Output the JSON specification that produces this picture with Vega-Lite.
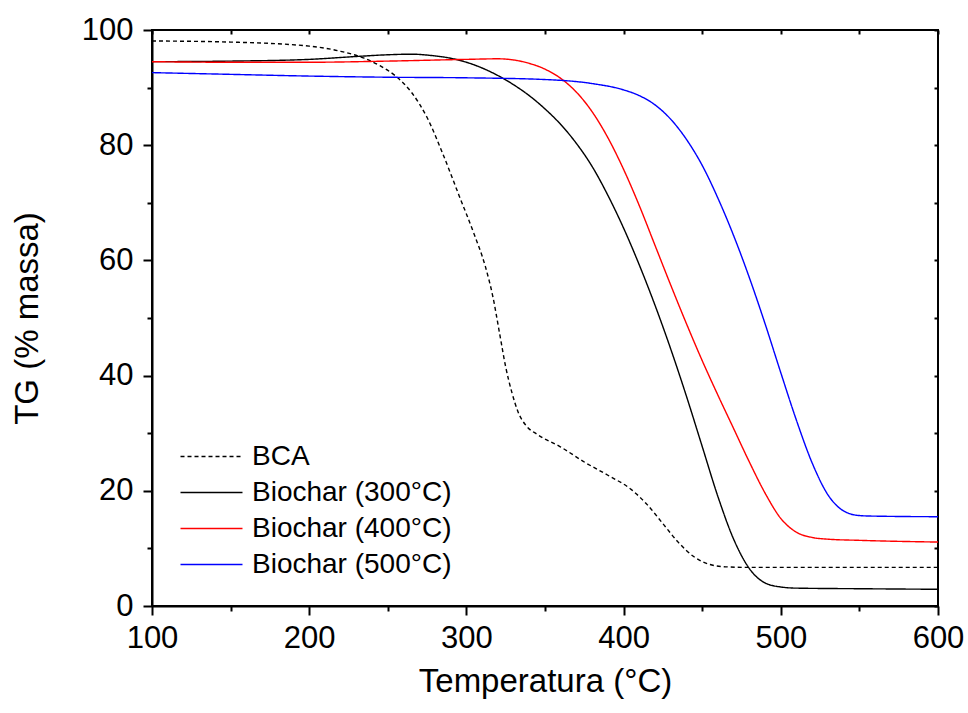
{
  "$schema": "https://vega.github.io/schema/vega-lite/v6.json",
  "width": 786,
  "height": 576,
  "padding": {"left": 11, "top": 14, "right": 25, "bottom": 5},
  "background": "white",
  "config": {
    "view": {"stroke": "black", "strokeWidth": 2},
    "font": "Liberation Sans",
    "axis": {
      "grid": false,
      "labelFlush": false,
      "domainColor": "black",
      "domainWidth": 2,
      "tickColor": "black",
      "tickWidth": 2,
      "labelColor": "black",
      "labelFont": "Liberation Sans",
      "labelFontSize": 31,
      "titleFont": "Liberation Sans",
      "titleFontSize": 33,
      "titleFontWeight": "normal",
      "titleColor": "black"
    },
    "legend": {
      "labelFont": "Liberation Sans",
      "labelFontSize": 28,
      "labelColor": "black",
      "labelLimit": 0
    }
  },
  "datasets": {
    "tg": [
      {"s": "BCA", "T": 100, "TG": 98.1},
      {"s": "BCA", "T": 150, "TG": 97.9},
      {"s": "BCA", "T": 200, "TG": 97.2},
      {"s": "BCA", "T": 220, "TG": 96.3},
      {"s": "BCA", "T": 235, "TG": 95.1},
      {"s": "BCA", "T": 245, "TG": 93.8},
      {"s": "BCA", "T": 255, "TG": 92.0},
      {"s": "BCA", "T": 265, "TG": 89.2},
      {"s": "BCA", "T": 275, "TG": 84.8},
      {"s": "BCA", "T": 285, "TG": 78.5},
      {"s": "BCA", "T": 295, "TG": 71.5},
      {"s": "BCA", "T": 305, "TG": 64.5},
      {"s": "BCA", "T": 312, "TG": 59.0},
      {"s": "BCA", "T": 317, "TG": 53.5},
      {"s": "BCA", "T": 321, "TG": 47.5},
      {"s": "BCA", "T": 325, "TG": 41.5},
      {"s": "BCA", "T": 329, "TG": 37.0},
      {"s": "BCA", "T": 333, "TG": 33.6},
      {"s": "BCA", "T": 338, "TG": 31.3},
      {"s": "BCA", "T": 345, "TG": 29.8},
      {"s": "BCA", "T": 360, "TG": 27.6},
      {"s": "BCA", "T": 375, "TG": 25.0},
      {"s": "BCA", "T": 390, "TG": 22.7},
      {"s": "BCA", "T": 405, "TG": 20.2},
      {"s": "BCA", "T": 415, "TG": 17.6},
      {"s": "BCA", "T": 425, "TG": 14.3},
      {"s": "BCA", "T": 435, "TG": 11.0},
      {"s": "BCA", "T": 445, "TG": 8.5},
      {"s": "BCA", "T": 455, "TG": 7.2},
      {"s": "BCA", "T": 465, "TG": 6.8},
      {"s": "BCA", "T": 480, "TG": 6.7},
      {"s": "BCA", "T": 540, "TG": 6.7},
      {"s": "BCA", "T": 600, "TG": 6.7},

      {"s": "Biochar (300°C)", "T": 100, "TG": 94.5},
      {"s": "Biochar (300°C)", "T": 150, "TG": 94.6},
      {"s": "Biochar (300°C)", "T": 200, "TG": 94.9},
      {"s": "Biochar (300°C)", "T": 230, "TG": 95.4},
      {"s": "Biochar (300°C)", "T": 250, "TG": 95.7},
      {"s": "Biochar (300°C)", "T": 265, "TG": 95.8},
      {"s": "Biochar (300°C)", "T": 280, "TG": 95.5},
      {"s": "Biochar (300°C)", "T": 290, "TG": 95.1},
      {"s": "Biochar (300°C)", "T": 300, "TG": 94.4},
      {"s": "Biochar (300°C)", "T": 310, "TG": 93.4},
      {"s": "Biochar (300°C)", "T": 320, "TG": 92.1},
      {"s": "Biochar (300°C)", "T": 330, "TG": 90.5},
      {"s": "Biochar (300°C)", "T": 340, "TG": 88.6},
      {"s": "Biochar (300°C)", "T": 350, "TG": 86.3},
      {"s": "Biochar (300°C)", "T": 360, "TG": 83.6},
      {"s": "Biochar (300°C)", "T": 370, "TG": 80.3},
      {"s": "Biochar (300°C)", "T": 380, "TG": 76.3},
      {"s": "Biochar (300°C)", "T": 390, "TG": 71.3},
      {"s": "Biochar (300°C)", "T": 400, "TG": 65.6},
      {"s": "Biochar (300°C)", "T": 410, "TG": 59.2},
      {"s": "Biochar (300°C)", "T": 420, "TG": 52.2},
      {"s": "Biochar (300°C)", "T": 430, "TG": 44.6},
      {"s": "Biochar (300°C)", "T": 440, "TG": 36.4},
      {"s": "Biochar (300°C)", "T": 450, "TG": 27.7},
      {"s": "Biochar (300°C)", "T": 460, "TG": 19.0},
      {"s": "Biochar (300°C)", "T": 470, "TG": 11.6},
      {"s": "Biochar (300°C)", "T": 480, "TG": 6.5},
      {"s": "Biochar (300°C)", "T": 490, "TG": 4.0},
      {"s": "Biochar (300°C)", "T": 500, "TG": 3.3},
      {"s": "Biochar (300°C)", "T": 510, "TG": 3.1},
      {"s": "Biochar (300°C)", "T": 550, "TG": 3.0},
      {"s": "Biochar (300°C)", "T": 600, "TG": 2.9},

      {"s": "Biochar (400°C)", "T": 100, "TG": 94.5},
      {"s": "Biochar (400°C)", "T": 150, "TG": 94.4},
      {"s": "Biochar (400°C)", "T": 200, "TG": 94.4},
      {"s": "Biochar (400°C)", "T": 250, "TG": 94.6},
      {"s": "Biochar (400°C)", "T": 300, "TG": 94.9},
      {"s": "Biochar (400°C)", "T": 320, "TG": 95.0},
      {"s": "Biochar (400°C)", "T": 330, "TG": 94.8},
      {"s": "Biochar (400°C)", "T": 340, "TG": 94.2},
      {"s": "Biochar (400°C)", "T": 350, "TG": 93.2},
      {"s": "Biochar (400°C)", "T": 360, "TG": 91.6},
      {"s": "Biochar (400°C)", "T": 370, "TG": 89.2},
      {"s": "Biochar (400°C)", "T": 380, "TG": 85.8},
      {"s": "Biochar (400°C)", "T": 390, "TG": 81.3},
      {"s": "Biochar (400°C)", "T": 400, "TG": 75.8},
      {"s": "Biochar (400°C)", "T": 410, "TG": 69.5},
      {"s": "Biochar (400°C)", "T": 420, "TG": 62.6},
      {"s": "Biochar (400°C)", "T": 430, "TG": 55.7},
      {"s": "Biochar (400°C)", "T": 440, "TG": 49.0},
      {"s": "Biochar (400°C)", "T": 450, "TG": 42.6},
      {"s": "Biochar (400°C)", "T": 460, "TG": 36.6},
      {"s": "Biochar (400°C)", "T": 470, "TG": 30.8},
      {"s": "Biochar (400°C)", "T": 480, "TG": 25.0},
      {"s": "Biochar (400°C)", "T": 490, "TG": 19.6},
      {"s": "Biochar (400°C)", "T": 500, "TG": 15.2},
      {"s": "Biochar (400°C)", "T": 510, "TG": 12.8},
      {"s": "Biochar (400°C)", "T": 520, "TG": 11.9},
      {"s": "Biochar (400°C)", "T": 530, "TG": 11.6},
      {"s": "Biochar (400°C)", "T": 550, "TG": 11.4},
      {"s": "Biochar (400°C)", "T": 600, "TG": 11.1},

      {"s": "Biochar (500°C)", "T": 100, "TG": 92.6},
      {"s": "Biochar (500°C)", "T": 150, "TG": 92.3},
      {"s": "Biochar (500°C)", "T": 200, "TG": 92.0},
      {"s": "Biochar (500°C)", "T": 250, "TG": 91.8},
      {"s": "Biochar (500°C)", "T": 300, "TG": 91.7},
      {"s": "Biochar (500°C)", "T": 350, "TG": 91.4},
      {"s": "Biochar (500°C)", "T": 380, "TG": 90.7},
      {"s": "Biochar (500°C)", "T": 400, "TG": 89.6},
      {"s": "Biochar (500°C)", "T": 410, "TG": 88.6},
      {"s": "Biochar (500°C)", "T": 420, "TG": 87.0},
      {"s": "Biochar (500°C)", "T": 430, "TG": 84.5},
      {"s": "Biochar (500°C)", "T": 440, "TG": 81.0},
      {"s": "Biochar (500°C)", "T": 450, "TG": 76.5},
      {"s": "Biochar (500°C)", "T": 460, "TG": 70.8},
      {"s": "Biochar (500°C)", "T": 470, "TG": 64.3},
      {"s": "Biochar (500°C)", "T": 480, "TG": 57.0},
      {"s": "Biochar (500°C)", "T": 490, "TG": 49.0},
      {"s": "Biochar (500°C)", "T": 500, "TG": 40.5},
      {"s": "Biochar (500°C)", "T": 510, "TG": 32.2},
      {"s": "Biochar (500°C)", "T": 520, "TG": 24.8},
      {"s": "Biochar (500°C)", "T": 530, "TG": 19.3},
      {"s": "Biochar (500°C)", "T": 540, "TG": 16.5},
      {"s": "Biochar (500°C)", "T": 550, "TG": 15.7},
      {"s": "Biochar (500°C)", "T": 560, "TG": 15.6},
      {"s": "Biochar (500°C)", "T": 600, "TG": 15.5}
    ]
  },
  "data": {"name": "tg"},
  "resolve": {"axis": {"x": "independent", "y": "independent"}},
  "layer": [
    {
      "mark": {"type": "line", "strokeWidth": 1.4, "interpolate": "monotone", "clip": true},
      "encoding": {
        "x": {
          "field": "T",
          "type": "quantitative",
          "title": "Temperatura (°C)",
          "scale": {"domain": [100, 600], "nice": false, "zero": false},
          "axis": {
            "values": [100, 150, 200, 250, 300, 350, 400, 450, 500, 550, 600],
            "labelExpr": "datum.value % 100 === 0 ? datum.label : ''",
            "tickSize": {"condition": {"test": "datum.value % 100 === 0", "value": 9}, "value": 5},
            "labelPadding": 8,
            "titlePadding": 12
          }
        },
        "y": {
          "field": "TG",
          "type": "quantitative",
          "title": "TG (% massa)",
          "scale": {"domain": [0, 100], "nice": false},
          "axis": {
            "values": [0, 10, 20, 30, 40, 50, 60, 70, 80, 90, 100],
            "labelExpr": "datum.value % 20 === 0 ? datum.label : ''",
            "tickSize": {"condition": {"test": "datum.value % 20 === 0", "value": 9}, "value": 5},
            "labelPadding": 10,
            "titlePadding": 37
          }
        },
        "color": {
          "field": "s",
          "type": "nominal",
          "scale": {
            "domain": ["BCA", "Biochar (300°C)", "Biochar (400°C)", "Biochar (500°C)"],
            "range": ["#000000", "#000000", "#ff0000", "#0000ff"]
          },
          "legend": {
            "title": null,
            "orient": "none",
            "legendX": 38,
            "legendY": 405,
            "symbolType": "M-1.5,0H1.5",
            "symbolSize": 1708,
            "symbolStrokeWidth": 1.4,
            "labelOffset": 19,
            "rowPadding": 0
          }
        },
        "strokeDash": {
          "field": "s",
          "type": "nominal",
          "scale": {
            "domain": ["BCA", "Biochar (300°C)", "Biochar (400°C)", "Biochar (500°C)"],
            "range": [[4, 3], [1, 0], [1, 0], [1, 0]]
          },
          "legend": null
        }
      }
    },
    {
      "mark": {"type": "line", "opacity": 0},
      "encoding": {
        "x": {
          "field": "T",
          "type": "quantitative",
          "axis": {
            "orient": "top",
            "title": null,
            "labels": false,
            "domain": false,
            "values": [100, 150, 200, 250, 300, 350, 400, 450, 500, 550, 600],
            "tickSize": -4
          }
        },
        "y": {
          "field": "TG",
          "type": "quantitative",
          "axis": {
            "orient": "right",
            "title": null,
            "labels": false,
            "domain": false,
            "values": [0, 10, 20, 30, 40, 50, 60, 70, 80, 90, 100],
            "tickSize": -4
          }
        },
        "detail": {"field": "s"}
      }
    }
  ]
}
